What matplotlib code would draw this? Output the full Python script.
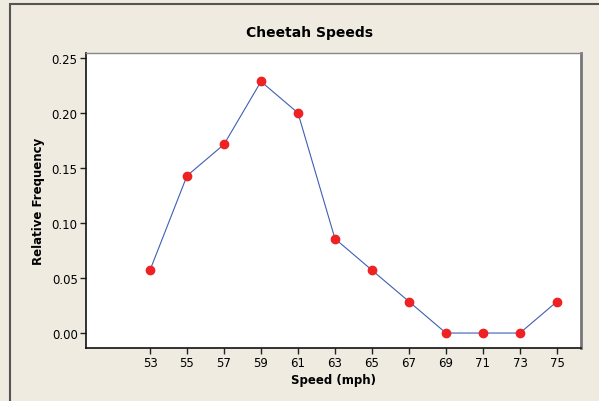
import matplotlib.pyplot as plt
from matplotlib.patches import Rectangle

speeds = [53, 55, 57, 59, 61, 63, 65, 67, 69, 71, 73, 75]
rel_freq = [0.0571, 0.1429, 0.1714, 0.2286, 0.2000, 0.0857, 0.0571, 0.0286, 0.0, 0.0, 0.0, 0.0286]
y_ticks = [0.00, 0.05, 0.10, 0.15, 0.20, 0.25]

bg = '#efebe1'
fig = plt.figure(figsize=(5.99, 4.02), dpi=100, facecolor=bg)
W, H = 599, 402

# outer frame (only left and top edges are visible in the crop)
fig.add_artist(Rectangle((10 / W, -0.1), 1.2, (H - 4.5) / H + 0.1, transform=fig.transFigure,
                         fill=False, edgecolor='#555555', linewidth=1.5))

ax = fig.add_axes([86 / W, 1 - 349 / H, (581 - 86) / W, (349 - 54) / H])
ax.set_facecolor('white')
ax.plot(speeds, rel_freq, color='#3f5fb5', linewidth=0.8, zorder=2)
ax.plot(speeds, rel_freq, 'o', color='#ee2222', markersize=6, zorder=3)

ax.set_xlim(49.54, 76.3)
ax.set_ylim(-0.0136, 0.2545)
ax.set_xticks(speeds)
ax.set_yticks(y_ticks)
ax.set_yticklabels([f'{v:.2f}' for v in y_ticks])
ax.tick_params(direction='out', length=4, width=1, labelsize=8.5, color='#222222', pad=2)

for s in ['left', 'bottom']:
    ax.spines[s].set_color('#111111')
    ax.spines[s].set_linewidth(1.2)
ax.spines['top'].set_color('#888888')
ax.spines['top'].set_linewidth(1.0)
ax.spines['right'].set_color('#777777')
ax.spines['right'].set_linewidth(2.0)

fig.text(309 / W, 1 - 33 / H, 'Cheetah Speeds', ha='center', va='center',
         fontsize=10, fontweight='bold')
ax.set_xlabel('Speed (mph)', fontsize=8.5, fontweight='bold', labelpad=3)
ax.set_ylabel('Relative Frequency', fontsize=8.5, fontweight='bold', labelpad=5)

fig.savefig('out.png', dpi=100, facecolor=bg)
